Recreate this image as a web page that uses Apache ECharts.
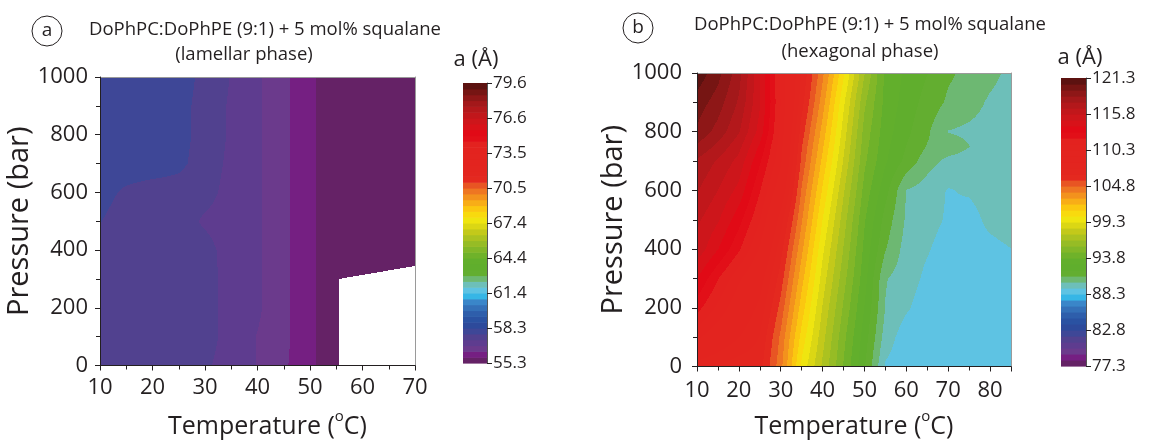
<!DOCTYPE html>
<html><head><meta charset="utf-8">
<script src="https://cdn.jsdelivr.net/npm/echarts@6/dist/echarts.min.js"></script>
<style>html,body{margin:0;padding:0;background:#fff}#c{width:1150px;height:444px}</style>
</head><body><div id="c"></div>
<script>
// ---------- DATA ----------
// (a) lamellar phase: lattice parameter a (Å) on a temperature x pressure grid
const lamTemps = [10, 15, 20, 25, 30, 35, 40, 45, 50, 55, 60, 65, 70];
const lamPress = [0, 100, 200, 300, 400, 500, 600, 700, 800, 900, 1000];
const lamValues = [
  [57.6, 57.6, 57.6, 57.6, 57.4, 57.1, 56.8, 56.4, 55.9, 55.5, null, null, null],
  [57.6, 57.6, 57.6, 57.6, 57.55, 57.1, 56.8, 56.45, 55.9, 55.5, null, null, null],
  [57.6, 57.6, 57.6, 57.6, 57.55, 57.1, 56.9, 56.45, 55.9, 55.5, null, null, null],
  [57.6, 57.6, 57.6, 57.6, 57.55, 57.1, 56.9, 56.45, 55.9, 55.5, null, null, null],
  [57.6, 57.6, 57.6, 57.6, 57.5, 57.1, 56.9, 56.45, 55.9, 55.5, 55.5, 55.5, 55.5],
  [57.85, 57.6, 57.6, 57.55, 57.25, 57.1, 56.9, 56.45, 55.9, 55.5, 55.5, 55.5, 55.5],
  [58.0, 57.75, 57.6, 57.6, 57.5, 57.15, 56.9, 56.45, 55.9, 55.5, 55.5, 55.5, 55.5],
  [58.1, 58.1, 58.1, 57.95, 57.6, 57.2, 56.9, 56.45, 55.9, 55.5, 55.5, 55.5, 55.5],
  [58.1, 58.1, 58.1, 58.0, 57.65, 57.25, 56.9, 56.45, 55.9, 55.5, 55.5, 55.5, 55.5],
  [58.1, 58.1, 58.1, 58.0, 57.65, 57.25, 56.9, 56.45, 55.9, 55.5, 55.5, 55.5, 55.5],
  [58.1, 58.1, 58.1, 58.05, 57.7, 57.3, 56.9, 56.45, 55.9, 55.5, 55.5, 55.5, 55.5]
];
// lower edge of the measured lamellar region at high temperature (no data below it)
const lamGapTemps = [55.5, 70];
const lamGapPress = [300, 345];
const lamRange = [55.3, 79.6];
const lamTickLabels = ['55.3', '58.3', '61.4', '64.4', '67.4', '70.5', '73.5', '76.6', '79.6'];

// (b) hexagonal phase
const hexTemps = [10, 15, 20, 25, 30, 35, 40, 45, 50, 55, 60, 65, 70, 75, 80, 85];
const hexPress = [0, 100, 200, 300, 400, 500, 600, 700, 750, 800, 900, 1000];
const hexValues = [
  [108, 107.5, 107, 107, 104.2, 100.0, 97.3, 94.65, 92.07, 89.1, 88.6, 88.6, 88.6, 88.6, 88.6, 88.6],
  [110.5, 109.5, 108.5, 107.5, 104.6, 100.8, 97.8, 95.0, 92.45, 89.7, 88.7, 88.6, 88.6, 88.6, 88.6, 88.6],
  [112.5, 111, 109.5, 108.2, 105.4, 101.6, 98.3, 95.5, 92.85, 90.1, 89.35, 88.7, 88.6, 88.6, 88.6, 88.6],
  [114, 112.2, 110.5, 109, 106.2, 102.4, 98.9, 96.0, 93.25, 90.2, 89.65, 89.0, 88.7, 88.6, 88.6, 88.7],
  [115.5, 114, 112.3, 110.2, 107, 103.2, 99.5, 96.5, 93.55, 91.1, 89.75, 89.3, 88.8, 88.7, 88.9, 89.2],
  [116, 115, 113.4, 111.3, 108, 104, 100.2, 97.0, 93.9, 91.6, 90.0, 89.55, 89.1, 88.8, 89.5, 89.8],
  [116.8, 115.8, 114.6, 112.2, 109.5, 104.7, 101, 97.6, 94.4, 92.3, 90.1, 89.7, 89.15, 89.35, 89.7, 89.9],
  [117.5, 116.6, 115.5, 113.2, 110.5, 105.5, 101.8, 98.3, 94.9, 93.0, 91.7, 90.5, 89.9, 89.8, 89.8, 89.9],
  [118.4, 117.4, 116.1, 113.8, 110.7, 105.8, 102.2, 98.6, 95.1, 93.15, 91.95, 91.0, 90.6, 90.15, 89.85, 89.8],
  [119.3, 118.2, 116.8, 114.5, 111, 106.2, 102.6, 98.9, 95.3, 93.3, 92.2, 91.2, 90.1, 89.95, 89.8, 89.7],
  [120, 119, 117.5, 115, 111.2, 107, 103.4, 99.5, 95.8, 93.5, 92.5, 91.6, 90.9, 90.5, 90.0, 89.7],
  [121, 119.8, 118, 115, 111, 107.5, 104.1, 100.4, 96.6, 93.6, 92.7, 92.0, 91.2, 90.8, 90.4, 89.9]
];
const hexRange = [77.3, 121.3];
const hexTickLabels = ['77.3', '82.8', '88.3', '93.8', '99.3', '104.8', '110.3', '115.8', '121.3'];

// ---------- STYLE ----------
const bandColors = [
  '#652266','#751f82','#6b3a8c','#5e3c8f','#51418f','#3e4797','#2d4a9b','#2a52a2','#2e5eab','#3470b8','#3a86c9','#36b6e6',
  '#5ec3e3','#6dbfb9','#6db872','#63ae30','#60ae2d','#62af2c','#6fb22a','#82b728','#96bc25','#abc220','#c3c91a','#dbd714',
  '#efe510','#f8da0e','#fbc710','#f8ad17','#f3921d','#ee7622','#e85523','#e4291f','#e3261f','#e3251f','#e3241f','#e3241f','#e3231f','#e3221f',
  '#e20f18','#e10a16','#d81219','#cd161b','#c1171b','#b3181b','#a3181a','#8e1717','#761513','#5c1210'
];
const NB = bandColors.length;
const FONT = '"Open Sans", "Noto Sans", sans-serif';
const INK = '#231f20';

function bandOf(v, range) {
  let k = Math.floor((v - range[0]) / (range[1] - range[0]) * NB);
  return Math.max(0, Math.min(NB - 1, k));
}

function cellData(temps, press) {
  const d = [];
  for (let j = 0; j < press.length - 1; j++)
    for (let i = 0; i < temps.length - 1; i++)
      d.push([temps[i], press[j], temps[i + 1], press[j + 1], i, j]);
  return d;
}

function inGap(T, P, gT, gP) {
  if (!gT || T < gT[0]) return false;
  const f = Math.min(1, (T - gT[0]) / (gT[1] - gT[0]));
  return P < gP[0] + f * (gP[1] - gP[0]);
}

// Filled-contour style rendering of one grid cell: colour each device pixel by the band of the
// bilinear value inside the cell, merging horizontal runs of equal colour into one rectangle.
function cellRenderer(values, range, gT, gP) {
  return function (params, api) {
    const T0 = api.value(0), P0 = api.value(1), T1 = api.value(2), P1 = api.value(3);
    const i = api.value(4), j = api.value(5);
    const c = [values[j][i], values[j][i + 1], values[j + 1][i], values[j + 1][i + 1]];
    const pick = (a, b, d, e) => c[a] != null ? c[a] : (c[b] != null ? c[b] : (c[d] != null ? c[d] : c[e]));
    const v00 = pick(0, 1, 2, 3), v10 = pick(1, 0, 3, 2), v01 = pick(2, 3, 0, 1), v11 = pick(3, 2, 1, 0);
    if (v00 == null) return null;
    const a = api.coord([T0, P0]), b = api.coord([T1, P1]);
    const x0 = a[0], x1 = b[0], yb = a[1], yt = b[1];
    const W = x1 - x0, H = yb - yt;
    const X0 = Math.round(x0), X1 = Math.round(x1), Y0 = Math.round(yt), Y1 = Math.round(yb);
    const clamp = t => Math.max(0, Math.min(1, t));
    const children = [];
    for (let py = Y0; py < Y1; py++) {
      const fy = clamp((yb - (py + 0.5)) / H);
      const P = P0 + fy * (P1 - P0);
      let runStart = X0, runCol;
      const flush = (end) => {
        if (runCol) children.push({
          type: 'rect', silent: true,
          shape: { x: runStart, y: py, width: end - runStart, height: 1 },
          style: { fill: runCol }
        });
      };
      for (let px = X0; px < X1; px++) {
        const fx = clamp((px + 0.5 - x0) / W);
        const T = T0 + fx * (T1 - T0);
        let col = null;
        if (!inGap(T, P, gT, gP)) {
          const v = v00 * (1 - fx) * (1 - fy) + v10 * fx * (1 - fy) + v01 * (1 - fx) * fy + v11 * fx * fy;
          col = bandColors[bandOf(v, range)];
        }
        if (px === X0) { runCol = col; runStart = px; }
        else if (col !== runCol) { flush(px); runCol = col; runStart = px; }
      }
      flush(X1);
    }
    return { type: 'group', children };
  };
}

function barRenderer(params, api) {
  const k = api.value(0);
  const a = api.coord([0, k]), b = api.coord([1, k + 1]);
  return {
    type: 'rect', silent: true,
    shape: { x: a[0], y: b[1], width: b[0] - a[0], height: a[1] - b[1] + 0.6 },
    style: { fill: bandColors[k] }
  };
}
const bandIdx = bandColors.map((c, k) => [k]);

const axisLineStyle = { color: INK, width: 1 };
const labelStyle = { fontSize: 22, color: INK, fontFamily: FONT };
function xNameStyle(shift) {
  return {
    fontSize: 25, color: INK, fontFamily: FONT, padding: [0, 0, 0, shift],
    rich: { s: { fontSize: 15, color: INK, fontFamily: FONT, verticalAlign: 'top', lineHeight: 34 }, n: { fontSize: 25, color: INK, fontFamily: FONT, lineHeight: 34 } }
  };
}

function plotAxes(gi, tmax, xgap, ygap, xm, ym, shift) {
  return {
    x: [
      { gridIndex: gi, type: 'value', min: 10, max: tmax, interval: 10, z: 10,
        axisLine: { onZero: false, lineStyle: axisLineStyle },
        axisTick: { length: 5, lineStyle: axisLineStyle },
        minorTick: { show: true, splitNumber: 2, length: 4, lineStyle: axisLineStyle },
        splitLine: { show: false },
        axisLabel: Object.assign({ margin: xm, showMaxLabel: tmax === 70, formatter: v => String(v) }, labelStyle),
        name: '{n|Temperature (}{s|o}{n|C)}', nameLocation: 'middle', nameGap: xgap, nameTextStyle: xNameStyle(shift) },
      { gridIndex: gi, type: 'value', min: 10, max: tmax, position: 'top', z: 9,
        axisLine: { onZero: false, lineStyle: { color: '#9a9a9a', width: 1 } },
        axisTick: { show: false }, axisLabel: { show: false }, splitLine: { show: false } }
    ],
    y: [
      { gridIndex: gi, type: 'value', min: 0, max: 1000, interval: 200, z: 10,
        axisLine: { onZero: false, lineStyle: axisLineStyle },
        axisTick: { length: 5, lineStyle: axisLineStyle },
        minorTick: { show: true, splitNumber: 2, length: 4, lineStyle: axisLineStyle },
        splitLine: { show: false },
        axisLabel: Object.assign({ margin: ym, formatter: v => String(v) }, labelStyle),
        name: 'Pressure (bar)', nameLocation: 'middle', nameGap: ygap, nameTextStyle: { fontSize: 29, color: INK, fontFamily: FONT } },
      { gridIndex: gi, type: 'value', min: 0, max: 1000, position: 'right', z: 9,
        axisLine: { onZero: false, lineStyle: { color: '#9a9a9a', width: 1 } },
        axisTick: { show: false }, axisLabel: { show: false }, splitLine: { show: false } }
    ]
  };
}

function barAxes(gi, labels) {
  return {
    x: { gridIndex: gi, type: 'value', min: 0, max: 1, show: false },
    y: { gridIndex: gi, type: 'value', min: 0, max: NB, interval: NB / 8, position: 'right', z: 10,
      axisLine: { show: true, onZero: false, lineStyle: { color: '#555', width: 1 } },
      axisTick: { length: 5, lineStyle: { color: INK } },
      splitLine: { show: false },
      axisLabel: { margin: 6, fontSize: 17, color: INK, fontFamily: FONT, formatter: v => labels[Math.round(v / (NB / 8))] } }
  };
}

const A = plotAxes(0, 70, 44, 64, 11, 12, 20);
const B = barAxes(1, lamTickLabels);
const C = plotAxes(2, 85, 43, 66, 13, 15, 0);
const D = barAxes(3, hexTickLabels);

const chart = echarts.init(document.getElementById('c'), null, { renderer: 'canvas' });
chart.setOption({
  backgroundColor: '#ffffff',
  animation: false,
  grid: [
    { left: 100, top: 77, width: 315, height: 291 },
    { left: 463, top: 83, width: 24, height: 280 },
    { left: 697, top: 73, width: 314, height: 298 },
    { left: 1061, top: 78, width: 25, height: 288 }
  ],
  xAxis: [A.x[0], A.x[1], B.x, C.x[0], C.x[1], D.x],
  yAxis: [A.y[0], A.y[1], B.y, C.y[0], C.y[1], D.y],
  series: [
    { type: 'custom', xAxisIndex: 0, yAxisIndex: 0, clip: true, encode: { x: [0, 2], y: [1, 3] },
      data: cellData(lamTemps, lamPress), renderItem: cellRenderer(lamValues, lamRange, lamGapTemps, lamGapPress) },
    { type: 'custom', xAxisIndex: 2, yAxisIndex: 2, encode: { x: 0, y: 0 },
      data: bandIdx, renderItem: barRenderer },
    { type: 'custom', xAxisIndex: 3, yAxisIndex: 3, clip: true, encode: { x: [0, 2], y: [1, 3] },
      data: cellData(hexTemps, hexPress), renderItem: cellRenderer(hexValues, hexRange, null, null) },
    { type: 'custom', xAxisIndex: 5, yAxisIndex: 5, encode: { x: 0, y: 0 },
      data: bandIdx, renderItem: barRenderer }
  ],
  graphic: [
    { type: 'circle', shape: { cx: 47, cy: 31, r: 15 }, style: { fill: 'none', stroke: INK, lineWidth: 1 } },
    { type: 'text', x: 47, y: 31, style: { text: 'a', font: '19px ' + FONT, fill: INK, align: 'center', verticalAlign: 'middle' } },
    { type: 'text', x: 265, y: 30, style: { text: 'DoPhPC:DoPhPE (9:1) + 5 mol% squalane', font: '18.5px ' + FONT, fill: INK, align: 'center', verticalAlign: 'middle' } },
    { type: 'text', x: 244, y: 55, style: { text: '(lamellar phase)', font: '18.5px ' + FONT, fill: INK, align: 'center', verticalAlign: 'middle' } },
    { type: 'text', x: 476, y: 60, style: { text: 'a (Å)', font: '22px ' + FONT, fill: INK, align: 'center', verticalAlign: 'middle' } },
    { type: 'circle', shape: { cx: 638, cy: 28, r: 15 }, style: { fill: 'none', stroke: INK, lineWidth: 1 } },
    { type: 'text', x: 638, y: 28, style: { text: 'b', font: '19px ' + FONT, fill: INK, align: 'center', verticalAlign: 'middle' } },
    { type: 'text', x: 870, y: 25, style: { text: 'DoPhPC:DoPhPE (9:1) + 5 mol% squalane', font: '18.5px ' + FONT, fill: INK, align: 'center', verticalAlign: 'middle' } },
    { type: 'text', x: 860, y: 52, style: { text: '(hexagonal phase)', font: '18.5px ' + FONT, fill: INK, align: 'center', verticalAlign: 'middle' } },
    { type: 'text', x: 1080, y: 58, style: { text: 'a (Å)', font: '22px ' + FONT, fill: INK, align: 'center', verticalAlign: 'middle' } }
  ]
});
</script>
</body></html>
